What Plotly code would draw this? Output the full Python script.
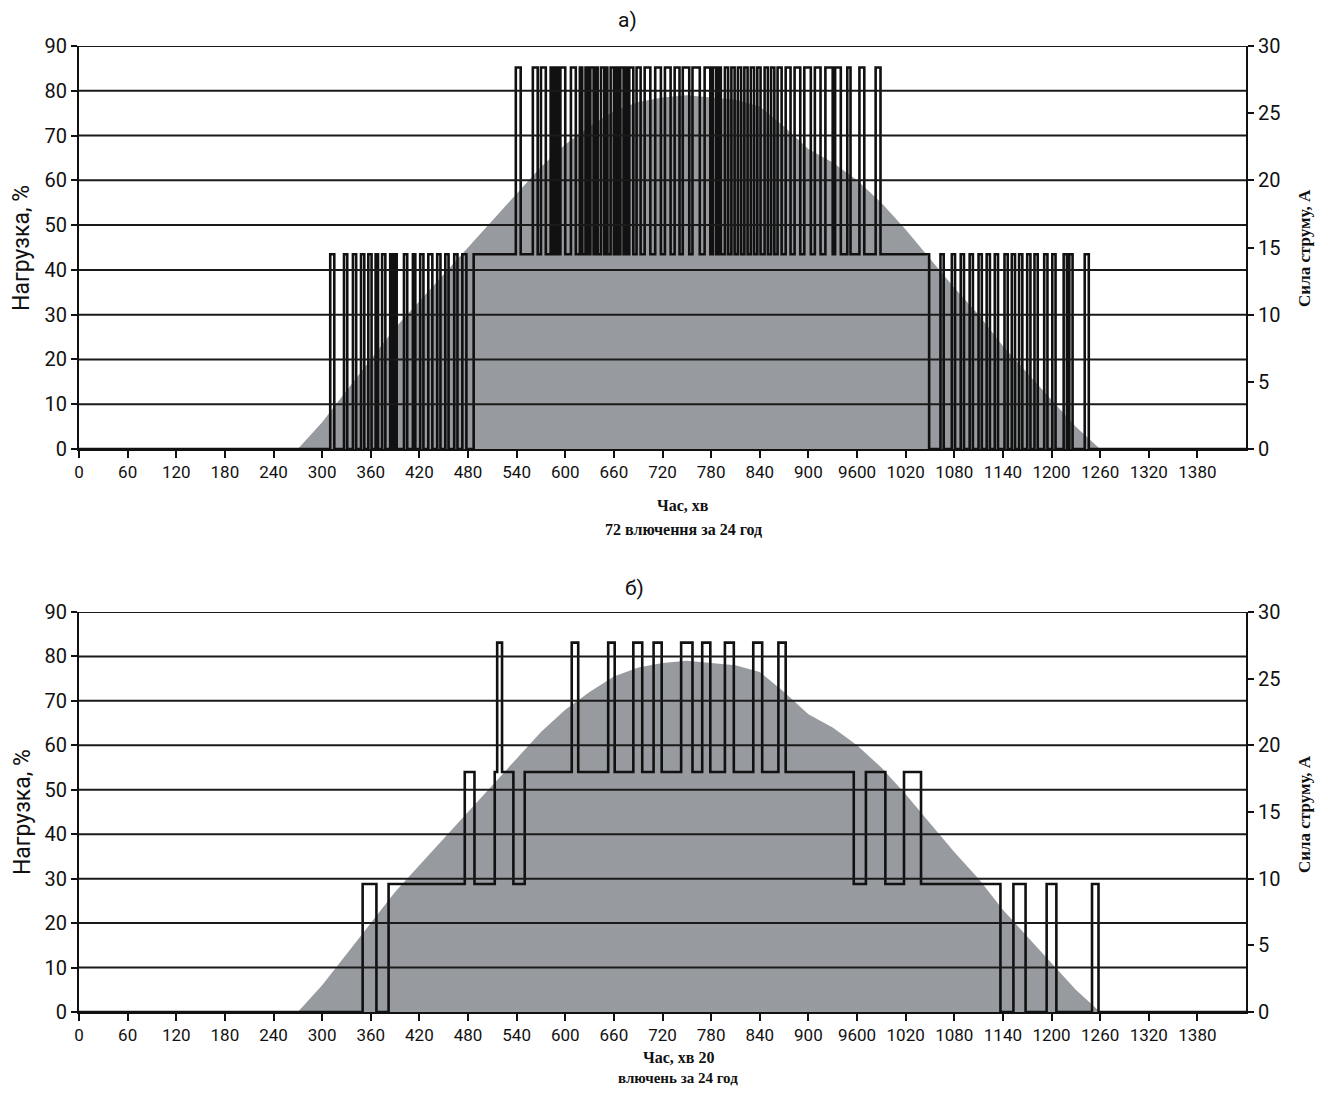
import plotly.graph_objects as go
from plotly.subplots import make_subplots

# ---------------- data ----------------
# gray area: load (%) vs time (min), shared by both panels
sun_t = [270, 300, 330, 360, 390, 420, 450, 480, 510, 540, 570, 600, 630, 660, 690, 720, 750,
         780, 810, 840, 870, 900, 930, 960, 990, 1020, 1050, 1080, 1110, 1140, 1170, 1200, 1230, 1260]
sun_load = [0, 6, 13, 20, 27, 33, 39, 45, 51, 57, 63, 68, 72, 75.5, 77.5, 78.5, 79,
            78.5, 78, 76.5, 72, 67, 64, 60, 55, 49, 42.5, 36, 30, 23, 17, 11, 5, 0]

# panel a) current levels (A) and pulse windows (min)
a_low = 14.5
a_high = 28.4
a_left_pulses = [[310, 315], [327, 331], [338, 342], [348, 352], [357, 361], [366, 369], [374, 378],
                 [384, 387], [389, 392], [401, 405], [412, 415], [421, 425], [431, 436], [442, 446],
                 [452, 456], [463, 467], [473, 478]]
a_rise = 487
a_mid_pulses = [[539, 545], [560, 566], [570, 576], [582, 585], [588, 591], [594, 600], [607, 613],
                [618, 621], [625, 628], [631, 635], [637, 640], [644, 648], [650, 652], [656, 660],
                [662, 665], [668, 672], [674, 677], [679, 684], [688, 693], [698, 705], [711, 718],
                [723, 730], [735, 741], [745, 753], [757, 766], [772, 779], [782, 786], [789, 792],
                [797, 801], [805, 809], [813, 817], [821, 825], [829, 833], [837, 841], [846, 850],
                [854, 858], [862, 867], [872, 878], [883, 890], [895, 903], [908, 915], [921, 930],
                [933, 940], [948, 952], [963, 969], [983, 989]]
a_fall = 1049
a_right_pulses = [[1063, 1067], [1077, 1081], [1088, 1092], [1099, 1103], [1110, 1114], [1120, 1124],
                  [1130, 1134], [1142, 1146], [1151, 1155], [1160, 1164], [1170, 1174], [1179, 1183],
                  [1191, 1195], [1201, 1205], [1215, 1219], [1222, 1226], [1241, 1246]]

# panel б) switching times (min) and current after each switch (A)
b_t = [0, 350, 367, 382, 476, 488, 513, 516, 522, 536, 550, 608, 616, 653, 661, 684, 695, 709, 719,
       743, 757, 769, 779, 797, 808, 832, 843, 863, 872, 956, 971, 995, 1018, 1039, 1137, 1153, 1168,
       1194, 1206, 1250, 1258, 1440]
b_i = [0, 9.6, 0, 9.6, 18, 9.6, 18, 27.7, 18, 9.6, 18, 27.7, 18, 27.7, 18, 27.7, 18, 27.7, 18,
       27.7, 18, 27.7, 18, 27.7, 18, 27.7, 18, 27.7, 18, 9.6, 18, 9.6, 18, 9.6, 0, 9.6, 0,
       9.6, 0, 9.6, 0, 0]

x_ticks = list(range(0, 1440, 60))
x_ticktext = [("9600" if v == 960 else str(v)) for v in x_ticks]
y_left_ticks = list(range(0, 91, 10))
y_right_ticks = list(range(0, 31, 5))

# ---------------- build step series for panel a ----------------
a_t, a_i = [0], [0]
def add_pulses(pulses, base, top):
    for s, e in pulses:
        a_t.extend([s, e]); a_i.extend([top, base])
add_pulses(a_left_pulses, 0, a_low)
a_t.append(a_rise); a_i.append(a_low)
add_pulses(a_mid_pulses, a_low, a_high)
a_t.append(a_fall); a_i.append(0)
add_pulses(a_right_pulses, 0, a_low)
a_t.append(1440); a_i.append(0)

# ---------------- figure ----------------
fig = make_subplots(rows=2, cols=1, specs=[[{"secondary_y": True}], [{"secondary_y": True}]])

gray = "#979a9e"
for r in (1, 2):
    fig.add_trace(go.Scatter(x=sun_t, y=sun_load, mode="lines", line=dict(width=0, color=gray),
                             fill="tozeroy", fillcolor=gray, showlegend=False, hoverinfo="skip"),
                  row=r, col=1, secondary_y=False)

fig.add_trace(go.Scatter(x=a_t, y=a_i, mode="lines", line=dict(color="#111", width=2.6, shape="hv"),
                         showlegend=False), row=1, col=1, secondary_y=True)
fig.add_trace(go.Scatter(x=b_t, y=b_i, mode="lines", line=dict(color="#111", width=2.6, shape="hv"),
                         showlegend=False), row=2, col=1, secondary_y=True)

narrow = "Roboto, Open Sans, sans-serif"
xtickfont = dict(family=narrow, size=17, color="#111")
ytickfont = dict(family=narrow, size=20, color="#111")
fig.update_xaxes(range=[0, 1440], tickvals=x_ticks, ticktext=x_ticktext, ticks="outside", ticklen=7,
                 tickwidth=1.5, tickcolor="#111", showline=True, linewidth=2, linecolor="#111",
                 showgrid=False, zeroline=False, tickfont=xtickfont, domain=[0, 1], automargin=False)
fig.update_yaxes(range=[0, 90], tickvals=y_left_ticks, ticks="outside", ticklen=6, tickwidth=1.5,
                 tickcolor="#111", showline=True, linewidth=2, linecolor="#111", showgrid=False,
                 zeroline=False, tickfont=ytickfont, automargin=False, secondary_y=False)
fig.update_yaxes(range=[0, 30], tickvals=y_right_ticks, ticks="outside", ticklen=6, tickwidth=1.5,
                 tickcolor="#111", showline=True, linewidth=2, linecolor="#111", showgrid=False,
                 zeroline=False, tickfont=ytickfont, automargin=False, secondary_y=True)
fig.update_yaxes(domain=[0.5828, 1.0], row=1, col=1)
fig.update_yaxes(domain=[0.0, 0.4141], row=2, col=1)

# horizontal grid lines drawn above the gray area
for yref in ("y", "y3"):
    for v in y_left_ticks[1:]:
        fig.add_shape(type="line", xref="x domain" if yref == "y" else "x2 domain", yref=yref,
                      x0=0, x1=1, y0=v, y1=v, line=dict(color="#1a1a1a", width=2), layer="above")

serif = "Liberation Serif, DejaVu Serif, serif"
ann = [
    dict(text="а)", x=0.4704, y=1.027, font=dict(family=narrow, size=21)),
    dict(text="б)", x=0.4756, y=0.4389, font=dict(family=narrow, size=21)),
    dict(text="<b>Час, хв</b>", x=0.5176, y=0.5248, font=dict(family=serif, size=16)),
    dict(text="<b>72 влючення за 24 год</b>", x=0.5176, y=0.499, font=dict(family=serif, size=16)),
    dict(text="<b>Час, хв 20</b>", x=0.5133, y=-0.0466, font=dict(family=serif, size=16)),
    dict(text="<b>влючень за 24 год</b>", x=0.5133, y=-0.0685, font=dict(family=serif, size=15)),
    dict(text="Нагрузка, %", x=-0.0488, y=0.791, textangle=-90, font=dict(family=narrow, size=23)),
    dict(text="Нагрузка, %", x=-0.0488, y=0.207, textangle=-90, font=dict(family=narrow, size=23)),
    dict(text="<b>Сила струму, А</b>", x=1.0506, y=0.791, textangle=-90, font=dict(family=serif, size=17)),
    dict(text="<b>Сила струму, А</b>", x=1.0506, y=0.205, textangle=-90, font=dict(family=serif, size=17)),
]
for a in ann:
    a.update(xref="paper", yref="paper", showarrow=False, xanchor="center", yanchor="middle")
    a["font"]["color"] = "#111"
fig.update_layout(annotations=ann)

# page body has an 8px margin: size/margins chosen so the plot area lands where the reference has it
fig.update_layout(width=1312, height=1079, margin=dict(l=71, r=74, t=38, b=75, autoexpand=False),
                  paper_bgcolor="white", plot_bgcolor="white", showlegend=False)

fig.write_html("out.html")
